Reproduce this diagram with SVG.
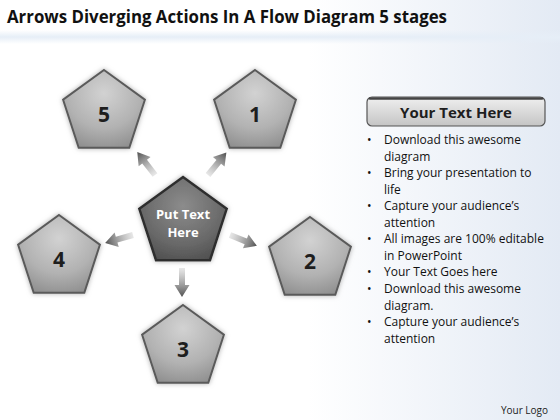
<svg xmlns="http://www.w3.org/2000/svg" width="560" height="420" viewBox="0 0 560 420">
<defs>
<linearGradient id="bg" x1="0" y1="0" x2="1" y2="0">
<stop offset="0" stop-color="#ffffff"/><stop offset="0.55" stop-color="#ffffff"/><stop offset="1" stop-color="#e3eaf4"/>
</linearGradient>
<linearGradient id="band" x1="0" y1="0" x2="0" y2="1">
<stop offset="0" stop-color="#e6eef7" stop-opacity="0"/><stop offset="0.5" stop-color="#e6eef7"/><stop offset="1" stop-color="#e6eef7" stop-opacity="0"/>
</linearGradient>
<radialGradient id="pg" cx="0.5" cy="0.3" r="0.75">
<stop offset="0" stop-color="#d2d2d2"/><stop offset="0.6" stop-color="#b2b2b2"/><stop offset="1" stop-color="#8e8e8e"/>
</radialGradient>
<radialGradient id="cg" cx="0.5" cy="0.35" r="0.75">
<stop offset="0" stop-color="#8c8c8c"/><stop offset="0.6" stop-color="#6a6a6a"/><stop offset="1" stop-color="#4a4a4a"/>
</radialGradient>
<linearGradient id="ag" x1="0" y1="0" x2="1" y2="0">
<stop offset="0" stop-color="#d8d8d8" stop-opacity="0.6"/><stop offset="1" stop-color="#505050"/>
</linearGradient>
<linearGradient id="hg" x1="0" y1="0" x2="0" y2="1">
<stop offset="0" stop-color="#f0f0f0"/><stop offset="1" stop-color="#c4c4c4"/>
</linearGradient>
<filter id="glow" x="-20%" y="-20%" width="140%" height="140%">
<feDropShadow dx="0" dy="0" stdDeviation="2.5" flood-color="#9a9a9a" flood-opacity="0.8"/>
</filter>
<polygon id="pent" points="0,-43 40.9,-13.3 25.3,34.8 -25.3,34.8 -40.9,-13.3"/>
<polygon id="arr" points="0,-3 17,-3 17,-7.5 29,0 17,7.5 17,3 0,3"/>
</defs>
<style>
.pent{fill:url(#pg);stroke:#5a5a5a;stroke-width:2;filter:url(#glow)}
.cent{fill:url(#cg);stroke:#2e2e2e;stroke-width:2.5;filter:url(#glow)}
.num{font-family:"Open Sans","Liberation Sans",sans-serif;font-weight:bold;font-size:21px;fill:#1e1e1e;text-anchor:middle}
.ctext{font-family:"Open Sans","Liberation Sans",sans-serif;font-weight:bold;font-size:13px;fill:#ffffff;text-anchor:middle}
.body{font-family:"Open Sans","Liberation Sans",sans-serif;font-size:12px;fill:#111111}
.arrow{fill:url(#ag)}
</style>
<rect x="0" y="0" width="560" height="420" fill="url(#bg)"/>
<rect x="0" y="30" width="560" height="14" fill="url(#band)"/>
<text x="7" y="23" font-family="Open Sans, Liberation Sans, sans-serif" font-weight="bold" font-size="17" fill="#111" textLength="440" lengthAdjust="spacingAndGlyphs">Arrows Diverging Actions In A Flow Diagram 5 stages</text>

<g id="connectors">
<use href="#arr" class="arrow" transform="translate(155,175) rotate(-127.7)"/>
<use href="#arr" class="arrow" transform="translate(208,175) rotate(-50.7)"/>
<use href="#arr" class="arrow" transform="translate(133,235) rotate(164)"/>
<use href="#arr" class="arrow" transform="translate(230,235) rotate(22)"/>
<use href="#arr" class="arrow" transform="translate(182,268) rotate(90)"/>
</g>

<g id="node-center">
<polygon class="cent" points="183,177 226.7,208.8 210,260.2 156,260.2 139.3,208.8"/>
<text class="ctext" x="183" y="219">Put Text</text>
<text class="ctext" x="183" y="237">Here</text>
</g>
<g id="node-5">
<use href="#pent" class="pent" transform="translate(104,113)"/>
<text class="num" x="104" y="122">5</text>
</g>
<g id="node-1">
<use href="#pent" class="pent" transform="translate(255,113)"/>
<text class="num" x="255" y="122">1</text>
</g>
<g id="node-4">
<use href="#pent" class="pent" transform="translate(59,258)"/>
<text class="num" x="59" y="267">4</text>
</g>
<g id="node-2">
<use href="#pent" class="pent" transform="translate(310,260)"/>
<text class="num" x="310" y="269">2</text>
</g>
<g id="node-3">
<use href="#pent" class="pent" transform="translate(183,348)"/>
<text class="num" x="183" y="357">3</text>
</g>

<g id="text-panel">
<rect x="367" y="97" width="178" height="29" rx="5" fill="url(#hg)" stroke="#555" stroke-width="1.2"/>
<path d="M370,98.5 H542" stroke="#444" stroke-width="2.5" stroke-linecap="round"/>
<text x="456" y="118" font-family="Open Sans, Liberation Sans, sans-serif" font-weight="bold" font-size="15" fill="#1e1e1e" text-anchor="middle">Your Text Here</text>
<g class="body">
<text x="367" y="144">•</text><text x="384" y="144">Download this awesome</text>
<text x="384" y="161">diagram</text>
<text x="367" y="177">•</text><text x="384" y="177">Bring your presentation to</text>
<text x="384" y="194">life</text>
<text x="367" y="210">•</text><text x="384" y="210">Capture your audience’s</text>
<text x="384" y="227">attention</text>
<text x="367" y="243">•</text><text x="384" y="243">All images are 100% editable</text>
<text x="384" y="260">in PowerPoint</text>
<text x="367" y="276">•</text><text x="384" y="276">Your Text Goes here</text>
<text x="367" y="293">•</text><text x="384" y="293">Download this awesome</text>
<text x="384" y="310">diagram.</text>
<text x="367" y="326">•</text><text x="384" y="326">Capture your audience’s</text>
<text x="384" y="343">attention</text>
</g>
</g>
<text x="548" y="414" font-family="Open Sans, Liberation Sans, sans-serif" font-size="10" fill="#222" text-anchor="end">Your Logo</text>
</svg>
